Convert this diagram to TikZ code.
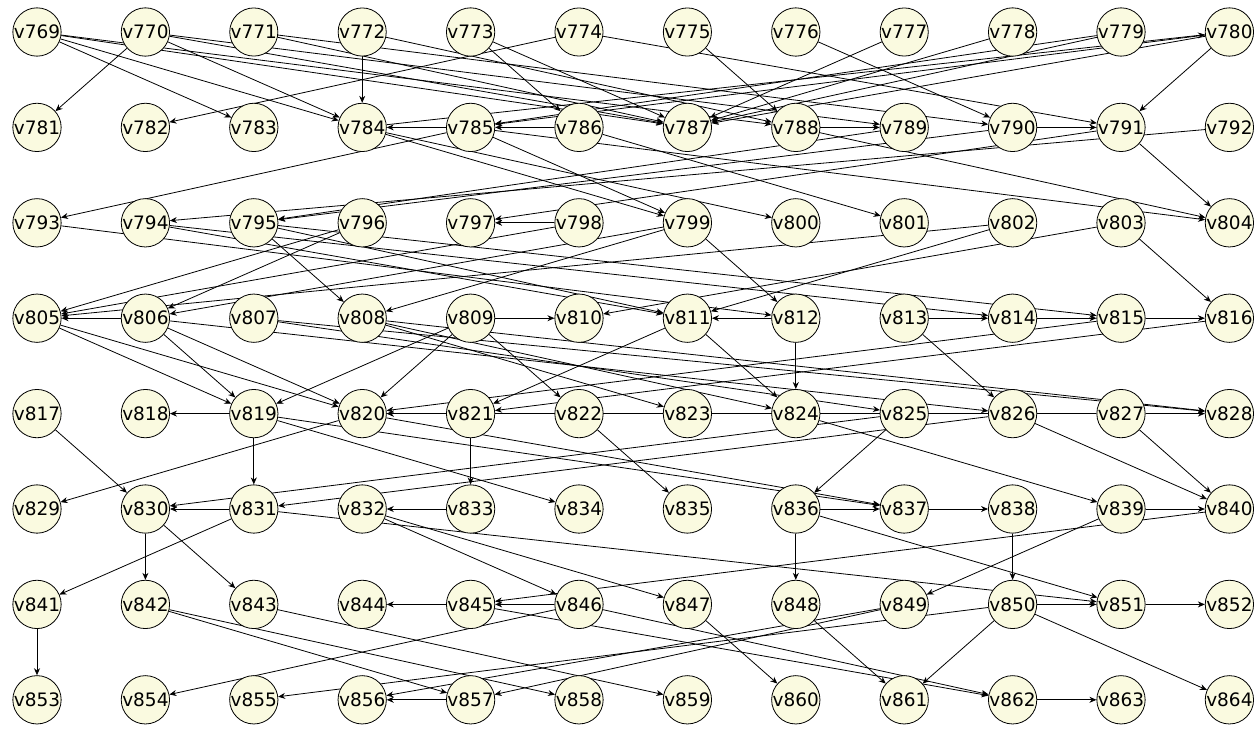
\documentclass[tikz,border=0pt]{standalone}
\usepackage{fontspec}
\newfontfamily\lbl{DejaVu Sans}
\usetikzlibrary{arrows.meta}
\pgfdeclarelayer{bg}
\pgfsetlayers{bg,main}
\definecolor{nodefill}{RGB}{250,250,224}
\tikzset{
  vx/.style={circle,draw=black,line width=0.8pt,fill=nodefill,minimum size=47pt,inner sep=0pt,font=\lbl\fontsize{18.5}{18.5}\selectfont},
  arr/.style={draw=black,line width=0.8pt,-{Stealth[length=7pt,width=6pt]}}
}
\begin{document}
\begin{tikzpicture}[x=1pt,y=1pt]
\useasboundingbox (0,0) rectangle (1254,-729);
\foreach \r in {0,...,7}{
  \foreach \c in {0,...,11}{
    \pgfmathtruncatemacro\n{769+12*\r+\c}
    \node[vx] (v\n) at ({37+108.4*\c},{-32-95.4*\r}) {v\n};
  }
}
\begin{pgfonlayer}{bg}
\foreach \a/\b in {769/783,769/784,769/787,769/788,770/781,770/784,770/787,770/789,
  771/787,771/790,772/784,772/788,773/786,773/787,774/782,774/791,775/788,776/790,
  777/787,778/787,779/785,779/787,780/791,780/785,780/787,784/780,
  784/800,784/799,785/784,785/793,785/804,785/799,786/785,786/801,788/789,788/804,
  790/791,790/795,791/804,791/797,792/794,789/795,
  793/812,794/811,794/814,795/808,795/815,795/811,796/805,796/806,798/797,798/805,
  799/812,799/808,799/806,802/811,802/805,803/816,803/810,
  805/819,805/820,806/805,806/819,806/820,806/826,807/825,807/828,808/823,808/824,
  809/810,809/819,809/820,809/822,811/824,811/821,812/824,812/811,813/826,813/814,
  814/815,815/816,815/820,816/821,808/828,
  817/830,819/818,819/831,819/834,819/837,820/829,820/837,821/820,821/833,822/835,
  824/839,825/836,825/830,826/840,826/831,827/828,827/840,827/820,
  831/830,831/841,831/851,833/832,832/846,832/847,836/848,836/837,836/851,837/838,
  838/850,839/849,839/840,840/845,830/842,830/843,
  841/853,842/857,842/858,843/859,845/844,846/845,846/854,847/860,848/861,849/857,
  849/856,850/851,850/864,850/861,850/855,851/852,845/862,846/862,862/863,857/856}
  {\draw[arr] (v\a) -- (v\b);}
\end{pgfonlayer}
\end{tikzpicture}
\end{document}
